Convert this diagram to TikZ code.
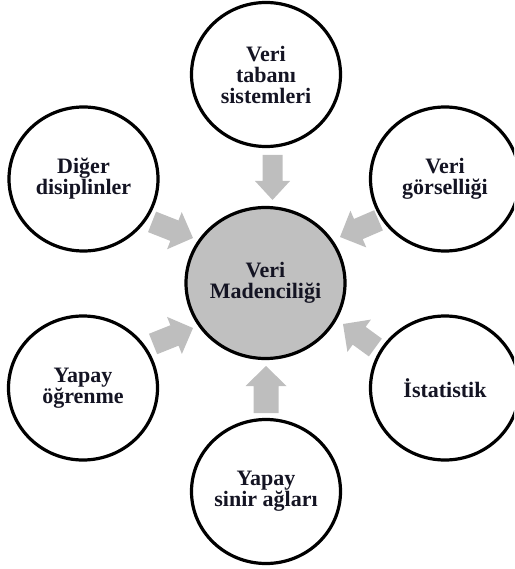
\documentclass[tikz,border=0pt]{standalone}
\usepackage{fontspec}
\setmainfont{Liberation Serif}
\usetikzlibrary{shapes.geometric}
\definecolor{arrgray}{RGB}{190,190,190}
\definecolor{midgray}{RGB}{192,192,192}
\definecolor{txt}{RGB}{20,20,35}
\newcommand\blockarr[7]{% tipx, tipy(px, down), angle, length, shaft, head, headlen
  \fill[arrgray, shift={(#1,-#2)}, rotate=#3]
    (0,0) -- ({-#7},{#6/2}) -- ({-#7},{#5/2}) -- ({-#4},{#5/2})
    -- ({-#4},{-#5/2}) -- ({-#7},{-#5/2}) -- ({-#7},{-#6/2}) -- cycle;}
\begin{document}
\begin{tikzpicture}[x=1pt,y=1pt,
  bubble/.style={ellipse, draw=black, line width=3.2pt, fill=white, inner sep=0pt,
    minimum width=149pt, minimum height=144pt, align=center, text=txt,
    font=\fontsize{22}{21}\selectfont\bfseries},
  hub/.style={bubble, fill=midgray, minimum width=159pt, minimum height=151pt}]
\clip (0,0) rectangle (514,-569);
\node[hub]    (c)  at (265.5,-283)  {Veri\\Madenciliği};
\node[bubble] (t)  at (266,-74.5)   {Veri\\tabanı\\sistemleri};
\node[bubble] (dl) at (83.5,-179)   {Diğer\\disiplinler};
\node[bubble] (vg) at (445,-179)    {Veri\\görselliği};
\node[bubble] (yo) at (83,-388)     {Yapay\\öğrenme};
\node[bubble] (is) at (445,-388)    {İstatistik};
\node[bubble] (ys) at (266,-491.5)  {Yapay\\sinir ağları};
% block arrows pointing to the hub
\blockarr{272.5}{200}{-90}{45}{20}{35}{19}
\blockarr{266}{366}{90}{47}{25}{41}{20}
\blockarr{193}{238}{-21.5}{44}{22}{40}{20}
\blockarr{340}{237}{203.4}{42}{22}{40}{20}
\blockarr{193}{328}{21.8}{43}{22}{40}{20}
\blockarr{343}{324}{144}{40}{22}{40}{20}
\end{tikzpicture}
\end{document}
